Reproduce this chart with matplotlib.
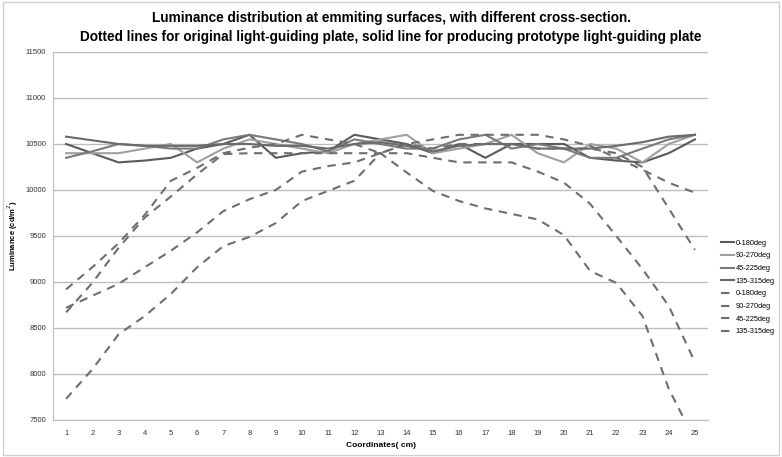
import numpy as np
import matplotlib
matplotlib.use("Agg")
import matplotlib.pyplot as plt
from matplotlib.patches import Rectangle

plt.rcParams["font.family"] = ["Liberation Sans Narrow", "Liberation Sans", "DejaVu Sans"]

coords = list(range(1, 26))
series_names = ["0-180deg", "90-270deg", "45-225deg", "135-315deg"]

# solid: producing prototype light-guiding plate
proto_0_180 = [10500, 10400, 10300, 10320, 10350, 10450, 10500, 10600, 10350, 10400, 10420, 10600, 10550,
               10500, 10400, 10500, 10350, 10500, 10500, 10500, 10350, 10320, 10300, 10400, 10550]
proto_90_270 = [10400, 10400, 10400, 10450, 10500, 10300, 10450, 10550, 10500, 10450, 10400, 10500, 10550,
                10600, 10400, 10450, 10500, 10600, 10400, 10300, 10500, 10450, 10300, 10500, 10600]
proto_45_225 = [10350, 10420, 10500, 10480, 10450, 10450, 10550, 10600, 10550, 10500, 10420, 10550, 10500,
                10450, 10450, 10550, 10600, 10450, 10500, 10450, 10350, 10350, 10450, 10550, 10600]
proto_135_315 = [10580, 10540, 10500, 10480, 10480, 10480, 10500, 10500, 10480, 10480, 10450, 10500, 10520,
                 10480, 10420, 10480, 10500, 10500, 10450, 10450, 10450, 10480, 10520, 10580, 10600]

# dashed: original light-guiding plate
orig_0_180 = [7730, 8050, 8430, 8630, 8870, 9160, 9390, 9490, 9640, 9880, 9990, 10100, 10400,
              10190, 9990, 9880, 9800, 9740, 9680, 9510, 9120, 8990, 8630, 7840, 7280]
orig_90_270 = [8920, 9160, 9420, 9730, 10100, 10240, 10400, 10460, 10500, 10600, 10550, 10500, 10400,
               10500, 10550, 10600, 10600, 10600, 10600, 10550, 10480, 10350, 10220, 10080, 9970]
orig_45_225 = [8670, 8990, 9370, 9700, 9930, 10170, 10390, 10400, 10400, 10400, 10400, 10400, 10400,
               10400, 10350, 10300, 10300, 10300, 10200, 10080, 9850, 9500, 9140, 8740, 8130]
orig_135_315 = [8720, 8850, 8980, 9160, 9340, 9540, 9770, 9900, 10000, 10200, 10260, 10300, 10400,
                10500, 10450, 10500, 10500, 10500, 10450, 10450, 10450, 10400, 10250, 9800, 9350]

proto = [proto_0_180, proto_90_270, proto_45_225, proto_135_315]
orig = [orig_0_180, orig_90_270, orig_45_225, orig_135_315]
solid_colors = ["#5a5a5a", "#a0a0a0", "#7a7a7a", "#6a6a6a"]
dash_color = "#6e6e6e"

fig = plt.figure(figsize=(7.82, 4.57), dpi=100)
ax = fig.add_axes([53 / 782, 1 - 420 / 457, 655 / 782, 368 / 457])

for name, vals, c in zip(series_names, proto, solid_colors):
    ax.plot(coords, vals, color=c, linewidth=1.5, label=name)
for name, vals in zip(series_names, orig):
    ax.plot(coords, vals, color=dash_color, linewidth=1.5, dashes=(4, 3.2), label=name)

ax.set_xlim(0.5, 25.5)
ax.set_ylim(7500, 11500)
ax.set_yticks(np.arange(7500, 11501, 500))
ax.set_xticks(coords)
ax.tick_params(axis="both", length=0, labelsize=5.5, colors="#333333")
ax.tick_params(axis="x", pad=7)
ax.tick_params(axis="y", pad=5)
ax.yaxis.grid(True, color="#bdbdbd", linewidth=1.0)
ax.set_axisbelow(True)
for s in ["top", "right"]:
    ax.spines[s].set_visible(False)
for s in ["left", "bottom"]:
    ax.spines[s].set_color("#bdbdbd")

ax.set_xlabel("Coordinates( cm)", fontsize=6, fontweight="bold", labelpad=4)
ax.set_ylabel("Luminance (cd/m$^2$)", fontsize=5.5, fontweight="bold")
ax.yaxis.set_label_coords(-(53 - 20) / 655, 0.5)

fig.text(0.5, 1 - 18 / 457, "Luminance distribution at emmiting surfaces, with different cross-section.",
         ha="center", va="center", fontsize=9.8, fontweight="bold")
fig.text(0.5, 1 - 37 / 457,
         "Dotted lines for original light-guiding plate, solid line for producing prototype light-guiding plate",
         ha="center", va="center", fontsize=9.8, fontweight="bold")

ax.legend(loc="center left", bbox_to_anchor=(1.015, 0.36), frameon=False, fontsize=5.3,
          handlelength=1.8, handletextpad=0.2, labelspacing=0.75, borderaxespad=0)

fig.patches.append(Rectangle((0.004, 0.004), 0.992, 0.992, transform=fig.transFigure,
                             fill=False, edgecolor="#d0d0d0", linewidth=1.0))

fig.savefig("out.png", dpi=100)
